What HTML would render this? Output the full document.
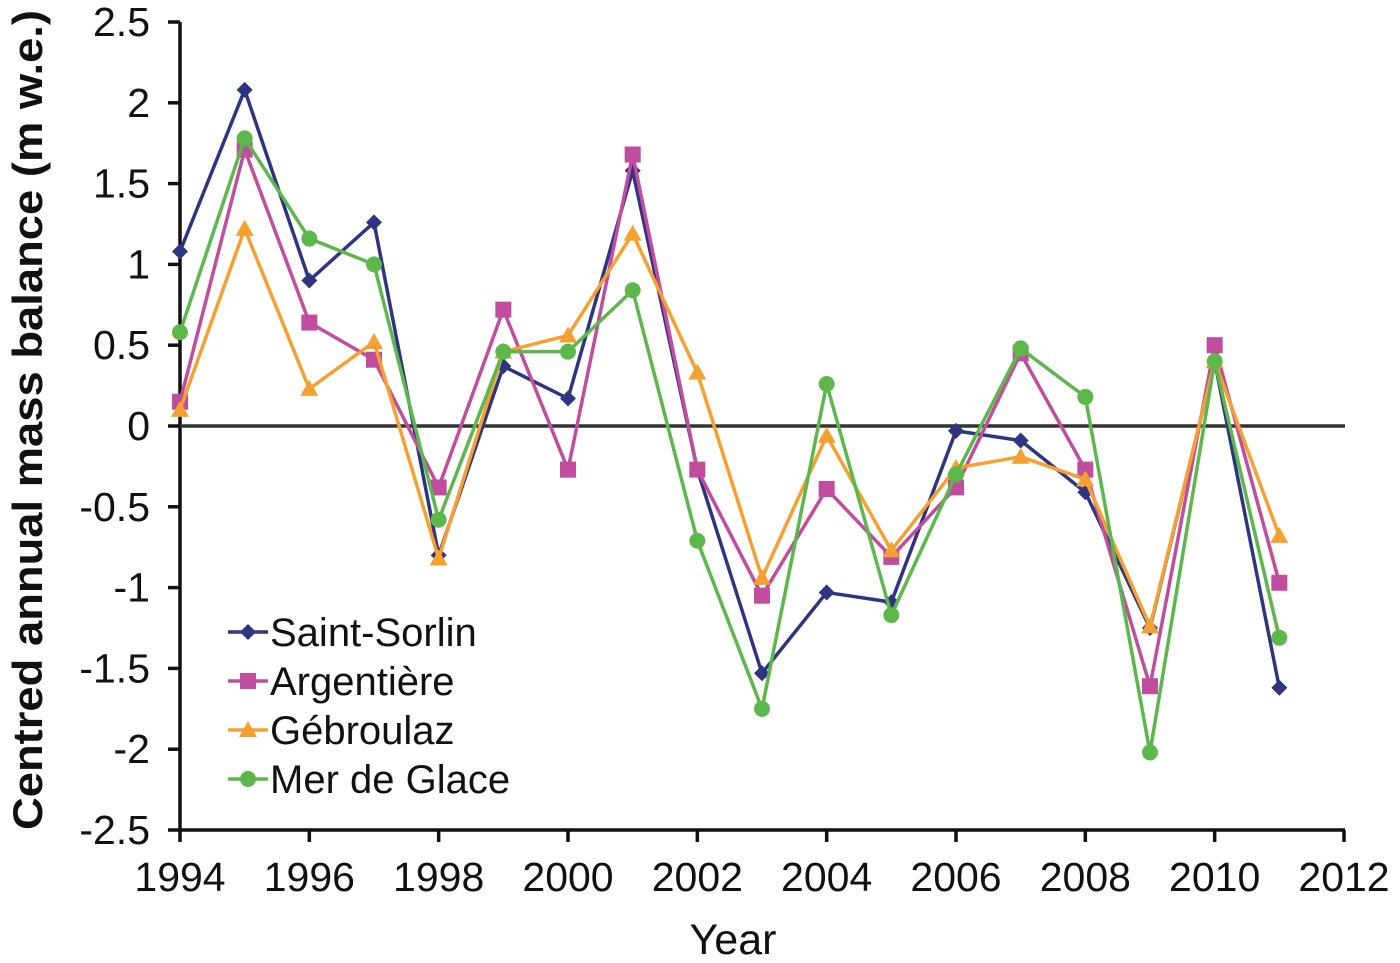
<!DOCTYPE html>
<html><head><meta charset="utf-8"><style>
body{margin:0;background:#fff}
svg text{font-family:"Liberation Sans",sans-serif;fill:#111}
</style></head><body>
<svg id="chart" width="1400" height="958">
<g id="axes"></g><g id="series"></g><g id="legend"></g>
</svg>
<script>
const years=[1994,1995,1996,1997,1998,1999,2000,2001,2002,2003,2004,2005,2006,2007,2008,2009,2010,2011];
const saintSorlin=[1.08,2.08,0.90,1.26,-0.80,0.37,0.17,1.58,-0.27,-1.53,-1.03,-1.09,-0.03,-0.09,-0.41,-1.25,0.40,-1.62];
const argentiere=[0.15,1.71,0.64,0.41,-0.38,0.72,-0.27,1.68,-0.27,-1.05,-0.39,-0.81,-0.38,0.45,-0.27,-1.61,0.50,-0.97];
const gebroulaz=[0.10,1.22,0.23,0.52,-0.82,0.46,0.56,1.19,0.33,-0.94,-0.06,-0.77,-0.26,-0.19,-0.33,-1.24,0.40,-0.68];
const merDeGlace=[0.58,1.78,1.16,1.00,-0.58,0.46,0.46,0.84,-0.71,-1.75,0.26,-1.17,-0.30,0.48,0.18,-2.02,0.40,-1.31];
const yTicks=[2.5,2,1.5,1,0.5,0,-0.5,-1,-1.5,-2,-2.5];
const xTicks=[1994,1996,1998,2000,2002,2004,2006,2008,2010,2012];
const seriesNames=["Saint-Sorlin","Argentière","Gébroulaz","Mer de Glace"];
const NS="http://www.w3.org/2000/svg";
const x=v=>180+(v-1994)*(1164/18);
const y=v=>426-v*161.6;
function mk(tag,attrs,parent,text){const e=document.createElementNS(NS,tag);for(const k in attrs)e.setAttribute(k,attrs[k]);if(text!==undefined)e.textContent=text;parent.appendChild(e);return e;}
const axes=document.getElementById('axes');
let e;
e=mk('line',{x1:180,y1:y(2.5),x2:180,y2:y(-2.5),stroke:'#111','stroke-width':3.5},axes);


e=mk('line',{x1:180,y1:y(-2.5),x2:1345,y2:y(-2.5),stroke:'#111','stroke-width':3.5},axes);


e=mk('line',{x1:180,y1:y(0),x2:1345,y2:y(0),stroke:'#333','stroke-width':3.5},axes);


yTicks.forEach(t=>{
 mk('line',{x1:168,y1:y(t),x2:180,y2:y(t),stroke:'#111','stroke-width':3.5},axes);
 e=mk('text',{x:150,y:y(t)+14,'text-anchor':'end','font-size':41},axes,String(t));
 
 
});
xTicks.forEach(t=>{
 mk('line',{x1:x(t),y1:y(-2.5),x2:x(t),y2:y(-2.5)+12,stroke:'#111','stroke-width':3.5},axes);
 e=mk('text',{x:x(t),y:891,'text-anchor':'middle','font-size':41},axes,String(t));
 
 
});
e=mk('text',{x:733,y:954,'text-anchor':'middle','font-size':43},axes,'Year');


e=mk('text',{x:0,y:0,'text-anchor':'middle','font-size':42,'font-weight':'bold',transform:'translate(42,420) rotate(-90)',textLength:820,lengthAdjust:'spacingAndGlyphs'},axes,'Centred annual mass balance (m w.e.)');



const colors=['#2e3480','#c04d9e','#f5a030','#5cb84a'];
const shapes=['diamond','square','triangle','circle'];
const data=[saintSorlin,argentiere,gebroulaz,merDeGlace];
function marker(g,shape,cx,cy,c){
 if(shape==='diamond')return mk('polygon',{points:`${cx},${cy-8} ${cx+8},${cy} ${cx},${cy+8} ${cx-8},${cy}`,fill:c},g);
 if(shape==='square')return mk('rect',{x:cx-8,y:cy-8,width:16,height:16,fill:c},g);
 if(shape==='triangle')return mk('polygon',{points:`${cx},${cy-9} ${cx+9},${cy+7} ${cx-9},${cy+7}`,fill:c},g);
 return mk('circle',{cx:cx,cy:cy,r:8,fill:c},g);
}
const sg=document.getElementById('series');
data.forEach((arr,i)=>{
 const g=mk('g',{},sg);
 
 
 mk('polyline',{points:arr.map((v,j)=>x(years[j])+','+y(v)).join(' '),fill:'none',stroke:colors[i],'stroke-width':3.5},g);
 arr.forEach((v,j)=>{const m=marker(g,shapes[i],x(years[j]),y(v),colors[i]);
  
  });
});
const lg=document.getElementById('legend');
seriesNames.forEach((n,i)=>{
 const yy=632+i*49;
 const g=mk('g',{},lg);
 
 
 mk('line',{x1:228,y1:yy,x2:268,y2:yy,stroke:colors[i],'stroke-width':3.5},g);
 marker(g,shapes[i],248,yy,colors[i]);
 mk('text',{x:270,y:yy+14,'font-size':40},g,n);
});
</script>
</body></html>
